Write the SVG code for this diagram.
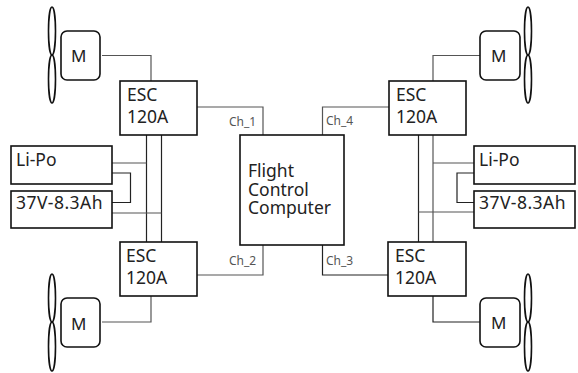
<svg xmlns="http://www.w3.org/2000/svg" width="578" height="373" viewBox="0 0 578 373">
<style>
.box{fill:#fff;stroke:#111;stroke-width:1.6}
.prop{fill:none;stroke:#111;stroke-width:1.6}
.w{fill:none;stroke:#555;stroke-width:1.2}
.d{fill:none;stroke:#222;stroke-width:1.2}
text{font-family:"Noto Sans","Liberation Sans",sans-serif;fill:#222}
.t{font-size:17.5px}
.v{font-size:17.5px;letter-spacing:.45px}
.m{font-size:17px}
.c{font-size:12px;fill:#555}
</style>
<rect width="578" height="373" fill="#fff"/>
<g id="connectors">
<path class="w" d="M102 55.500H151V81"/>
<path class="w" d="M197 107H263V135"/>
<path class="w" d="M197 275H263V245"/>
<path class="w" d="M102 322H151V296"/>
<path class="d" d="M146.500 135V242"/>
<path class="d" d="M161.500 135V242"/>
<path class="w" d="M112 163H146.500"/>
<path class="d" d="M112 173H130.500V202.500H112"/>
<path class="w" d="M112 213H161.500"/>
<path class="w" d="M480 55.500H433V81"/>
<path class="w" d="M389 107H322.500V135"/>
<path class="d" d="M388 275H322.500V245"/>
<path class="d" d="M480 322H433V296"/>
<path class="d" d="M418.500 135V242"/>
<path class="w" d="M433 135V242"/>
<path class="w" d="M474 163H433"/>
<path class="d" d="M474 173H457V202.500H474"/>
<path class="w" d="M474 212H418.500"/>
</g>
<g id="prop-tl"><ellipse class="prop" cx="52" cy="31" rx="3.500" ry="24"/><ellipse class="prop" cx="52" cy="79" rx="3.500" ry="24"/></g>
<g id="prop-bl"><ellipse class="prop" cx="52" cy="298" rx="3.500" ry="24"/><ellipse class="prop" cx="52" cy="346.500" rx="3.500" ry="24.500"/></g>
<g id="prop-tr"><ellipse class="prop" cx="528" cy="31" rx="3.500" ry="24"/><ellipse class="prop" cx="528" cy="79" rx="3.500" ry="24"/></g>
<g id="prop-br"><ellipse class="prop" cx="528" cy="298" rx="3.500" ry="24"/><ellipse class="prop" cx="528" cy="346.500" rx="3.500" ry="24.500"/></g>
<g id="motor-tl"><rect class="box" x="61" y="31" width="39" height="49" rx="6"/><text class="m" x="71" y="62">M</text></g>
<g id="motor-bl"><rect class="box" x="61" y="298" width="39" height="49" rx="6"/><text class="m" x="71" y="330">M</text></g>
<g id="motor-tr"><rect class="box" x="480" y="31" width="40" height="49" rx="6"/><text class="m" x="491" y="62">M</text></g>
<g id="motor-br"><rect class="box" x="480" y="298" width="40" height="49" rx="6"/><text class="m" x="491" y="329">M</text></g>
<g id="esc-1"><rect class="box" x="120" y="81" width="77" height="54"/><text class="t" x="127" y="101">ESC</text><text class="t" x="127" y="123">120A</text></g>
<g id="esc-2"><rect class="box" x="120" y="242" width="77" height="54"/><text class="t" x="126" y="262">ESC</text><text class="t" x="126" y="284">120A</text></g>
<g id="esc-4"><rect class="box" x="389" y="81" width="77" height="54"/><text class="t" x="396" y="101">ESC</text><text class="t" x="396" y="123">120A</text></g>
<g id="esc-3"><rect class="box" x="388" y="242" width="78" height="54"/><text class="t" x="395" y="262">ESC</text><text class="t" x="395" y="284">120A</text></g>
<g id="battery-l1"><rect class="box" x="11" y="146" width="101" height="38"/><text class="t" x="16" y="166">Li-Po</text></g>
<g id="battery-l2"><rect class="box" x="11" y="191" width="101" height="37"/><text class="v" x="16" y="209">37V-8.3Ah</text></g>
<g id="battery-r1"><rect class="box" x="474" y="146" width="101" height="38"/><text class="t" x="479" y="166">Li-Po</text></g>
<g id="battery-r2"><rect class="box" x="474" y="191" width="101" height="37"/><text class="v" x="479" y="209">37V-8.3Ah</text></g>
<g id="fcc"><rect class="box" x="240" y="135" width="104" height="110"/><text class="t"><tspan x="248" y="177">Flight</tspan><tspan x="248" y="196">Control</tspan><tspan x="248" y="214">Computer</tspan></text></g>
<g id="labels"><text class="c" x="229" y="126">Ch_1</text><text class="c" x="229" y="265">Ch_2</text><text class="c" x="326" y="265">Ch_3</text><text class="c" x="326" y="125">Ch_4</text></g>
</svg>
